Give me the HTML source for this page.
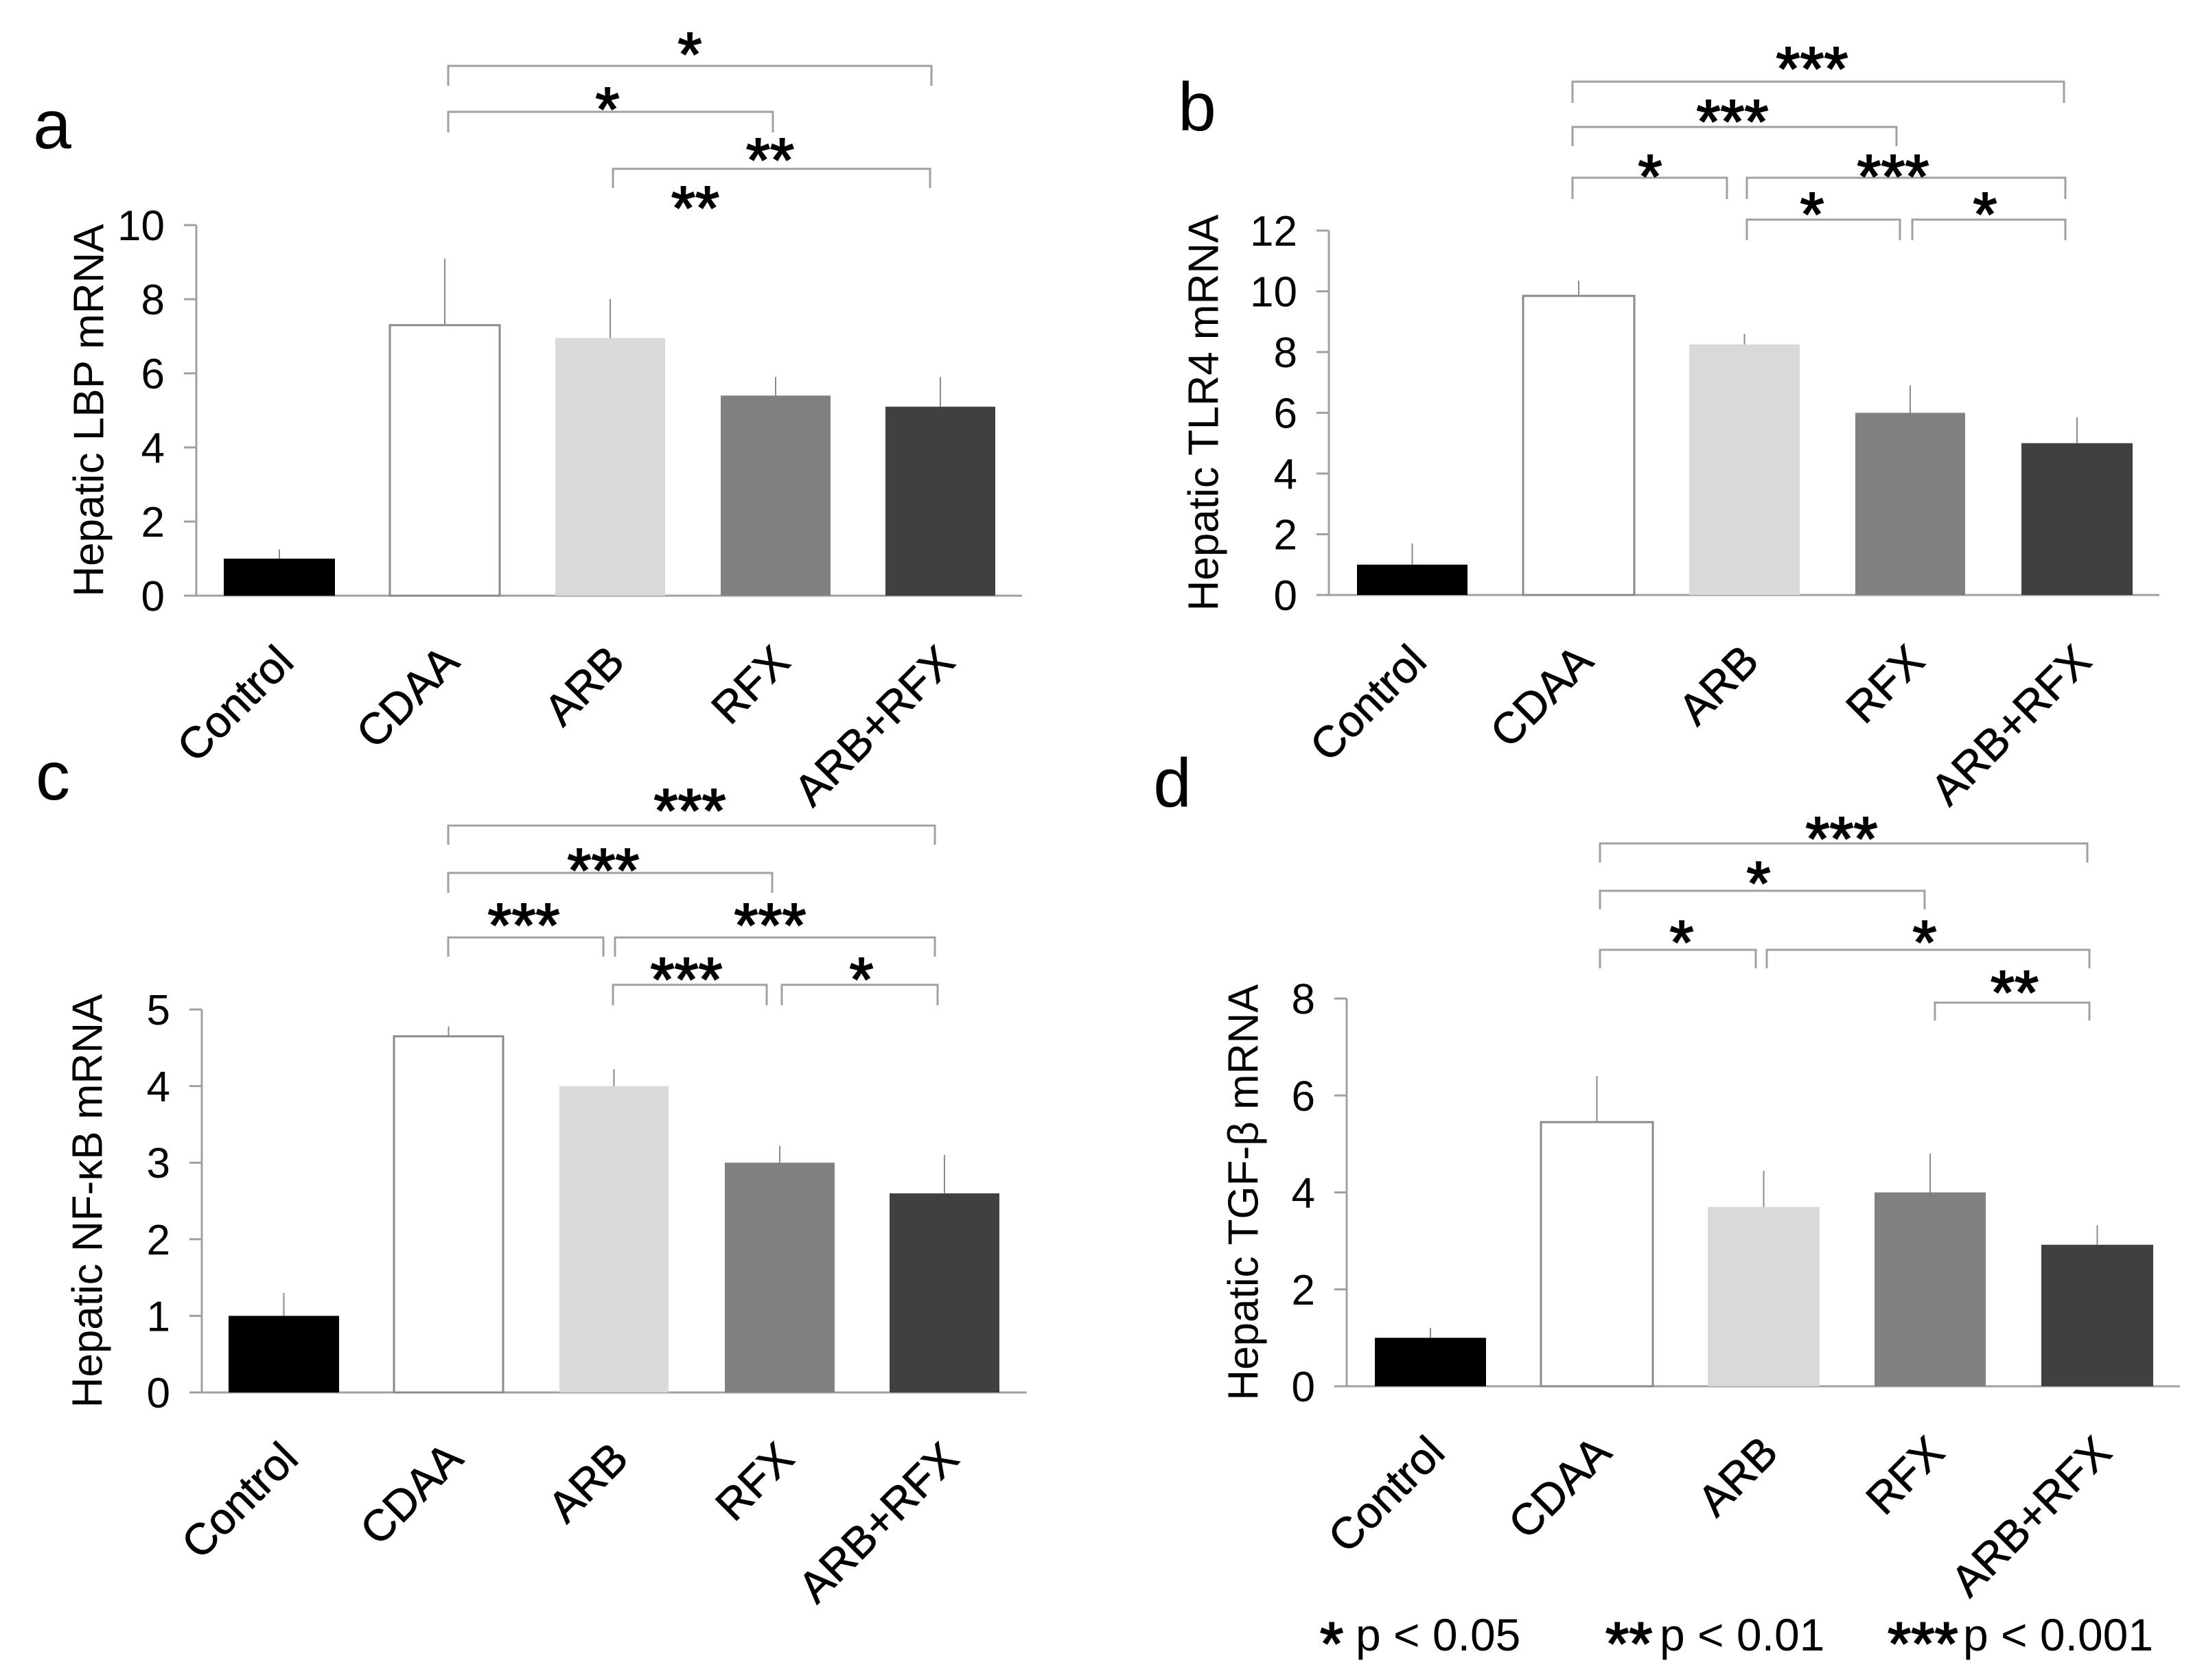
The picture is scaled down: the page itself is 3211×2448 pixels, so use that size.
<!DOCTYPE html>
<html><head><meta charset="utf-8"><style>
html,body{margin:0;padding:0;background:#fff}
svg{display:block;font-family:"Liberation Sans",Arial,sans-serif}
</style></head><body>
<svg id="fig" width="3211" height="2448" viewBox="0 0 3211 2448" xmlns="http://www.w3.org/2000/svg"></svg>
<script>
const categories = ["Control","CDAA","ARB","RFX","ARB+RFX"];
const lbpValues = [1.0, 7.3, 6.95, 5.4, 5.1];
const lbpErrTop = [1.25, 9.1, 8.0, 5.9, 5.9];
const lbpTicks = [0,2,4,6,8,10];
const tlr4Values = [1.0, 9.85, 8.25, 6.0, 5.0];
const tlr4ErrTop = [1.7, 10.35, 8.6, 6.9, 5.85];
const tlr4Ticks = [0,2,4,6,8,10,12];
const nfkbValues = [1.0, 4.65, 4.0, 3.0, 2.6];
const nfkbErrTop = [1.3, 4.78, 4.22, 3.22, 3.1];
const nfkbTicks = [0,1,2,3,4,5];
const tgfValues = [1.0, 5.45, 3.7, 4.0, 2.92];
const tgfErrTop = [1.2, 6.4, 4.45, 4.8, 3.32];
const tgfTicks = [0,2,4,6,8];
const barFills = ["#000000","#ffffff","#d9d9d9","#808080","#404040"];

const NS="http://www.w3.org/2000/svg";
const svg=document.getElementById('fig');
function mk(tag,attrs,parent,text){const e=document.createElementNS(NS,tag);for(const k in attrs)e.setAttribute(k,attrs[k]);if(text!==undefined)e.textContent=text;(parent||svg).appendChild(e);return e;}

const panels=[
 {id:'a',title:'Hepatic LBP mRNA',values:lbpValues,err:lbpErrTop,ticks:lbpTicks,axX:286,zeroY:868,topY:328,axEnd:1489,bars:[[326,488],[568,728],[809,969],[1050,1210],[1290,1450]],titleX:130,letter:[76,180],
  brackets:[[653,1357,96,125,'*',1005,60],[653,1126,163,193,'*',885,140],[893,1355,246,274,'**',1122,214],[null,null,null,null,'**',1013,284]]},
 {id:'b',title:'Hepatic TLR4 mRNA',values:tlr4Values,err:tlr4ErrTop,ticks:tlr4Ticks,axX:1936,zeroY:867,topY:336,axEnd:3146,bars:[[1977,2138],[2219,2381],[2461,2622],[2703,2863],[2945,3107]],titleX:1754,letter:[1744,154],
  brackets:[[2291,3007,119,150,'***',2640,81],[2291,2763,185,213,'***',2524,158],[2291,2516,259,290,'*',2404,238],[2545,3009,259,290,'***',2758,238],[2545,2768,320,350,'*',2640,293],[2786,3009,320,350,'*',2892,293]]},
 {id:'c',title:'Hepatic NF-\u03BAB mRNA',values:nfkbValues,err:nfkbErrTop,ticks:nfkbTicks,axX:294,zeroY:2029,topY:1471,axEnd:1496,bars:[[333,494],[574,733],[815,974],[1056,1216],[1296,1456]],titleX:128,letter:[77,1129],
  brackets:[[653,1362,1203,1231,'***',1005,1162],[653,1125,1272,1301,'***',879,1249],[653,879,1366,1394,'***',763,1329],[896,1362,1366,1394,'***',1122,1329],[893,1117,1435,1465,'***',1000,1408],[1139,1366,1435,1465,'*',1255,1408]]},
 {id:'d',title:'Hepatic TGF-\u03B2 mRNA',values:tgfValues,err:tgfErrTop,ticks:tgfTicks,axX:1962,zeroY:2020,topY:1455,axEnd:3176,bars:[[2003,2165],[2245,2408],[2488,2651],[2731,2893],[2974,3137]],titleX:1812,letter:[1708,1139],
  brackets:[[2331,3041,1229,1257,'***',2683,1203],[2331,2804,1298,1325,'*',2562,1268],[2331,2558,1384,1411,'*',2450,1354],[2574,3044,1384,1411,'*',2804,1354],[2819,3044,1461,1487,'**',2935,1427]]}
];

panels.forEach(p=>{
  const g=mk('g',{});
  
  
  const maxT=p.ticks[p.ticks.length-1];
  const y=v=>p.zeroY-(v/maxT)*(p.zeroY-p.topY);
  const lt=mk('text',{x:p.letter[0],y:p.letter[1]+36,'font-size':100,'text-anchor':'middle',fill:'#000'},g,p.id);
  
  
  const ya=mk('line',{x1:p.axX,y1:p.topY,x2:p.axX,y2:p.zeroY,stroke:'#a0a0a0','stroke-width':3},g);
  
  
  const xa=mk('line',{x1:p.axX-18,y1:p.zeroY,x2:p.axEnd,y2:p.zeroY,stroke:'#a0a0a0','stroke-width':3},g);
  
  
  p.ticks.forEach(t=>{
    const ty=y(t);
    const tm=mk('line',{x1:p.axX-18,y1:ty,x2:p.axX,y2:ty,stroke:'#a0a0a0','stroke-width':3},g);
    
    
    const tl=mk('text',{x:p.axX-46,y:ty+22,'font-size':62,'text-anchor':'end',fill:'#000'},g,String(t));
    
    
  });
  const cy=(p.zeroY+p.topY)/2;
  const tt=mk('text',{x:p.titleX,y:cy,'font-size':62,'text-anchor':'middle','dominant-baseline':'central',fill:'#000',transform:`rotate(-90 ${p.titleX} ${cy})`},g,p.title);
  
  
  categories.forEach((c,i)=>{
    const [x0,x1]=p.bars[i];const cx=(x0+x1)/2;
    const top=y(p.values[i]);
    const isWhite=barFills[i]==='#ffffff';
    const r=mk('rect',{x:x0,y:top,width:x1-x0,height:p.zeroY-top,fill:barFills[i],stroke:isWhite?'#8a8a8a':'none','stroke-width':isWhite?3:0},g);
    
    
    const e=mk('line',{x1:cx,y1:top,x2:cx,y2:y(p.err[i]),stroke:'#8a8a8a','stroke-width':2},g);
    
    
    const ax=cx+24,ay=p.zeroY+100;
    const cl=mk('text',{x:ax,y:ay,'font-size':64,'text-anchor':'end',fill:'#000',stroke:'#000','stroke-width':0.8,transform:`rotate(-45 ${ax} ${ay})`},g,c);
    
    
  });
  p.brackets.forEach(b=>{
    if(b[0]!==null){
      const pl=mk('polyline',{points:`${b[0]},${b[3]} ${b[0]},${b[2]} ${b[1]},${b[2]} ${b[1]},${b[3]}`,fill:'none',stroke:'#a0a0a0','stroke-width':3},g);
      
      
    }
    const st=mk('text',{x:b[5],y:b[6]+50,'font-size':90,'text-anchor':'middle',fill:'#000',stroke:'#000','stroke-width':2},g,b[4]);
    
    
  });
});
const legendStars=[["*",1923],["**",2339],["***",2750]];
const legendTexts=[["p < 0.05",1975],["p < 0.01",2418],["p < 0.001",2860]];
legendStars.forEach(l=>{
  const t=mk('text',{x:l[1],y:2425,'font-size':88,fill:'#000',stroke:'#000','stroke-width':2},svg,l[0]);
  
  
});
legendTexts.forEach(l=>{
  const t=mk('text',{x:l[1],y:2405,'font-size':66,fill:'#000'},svg,l[0]);
  
  
});
</script>
</body></html>
